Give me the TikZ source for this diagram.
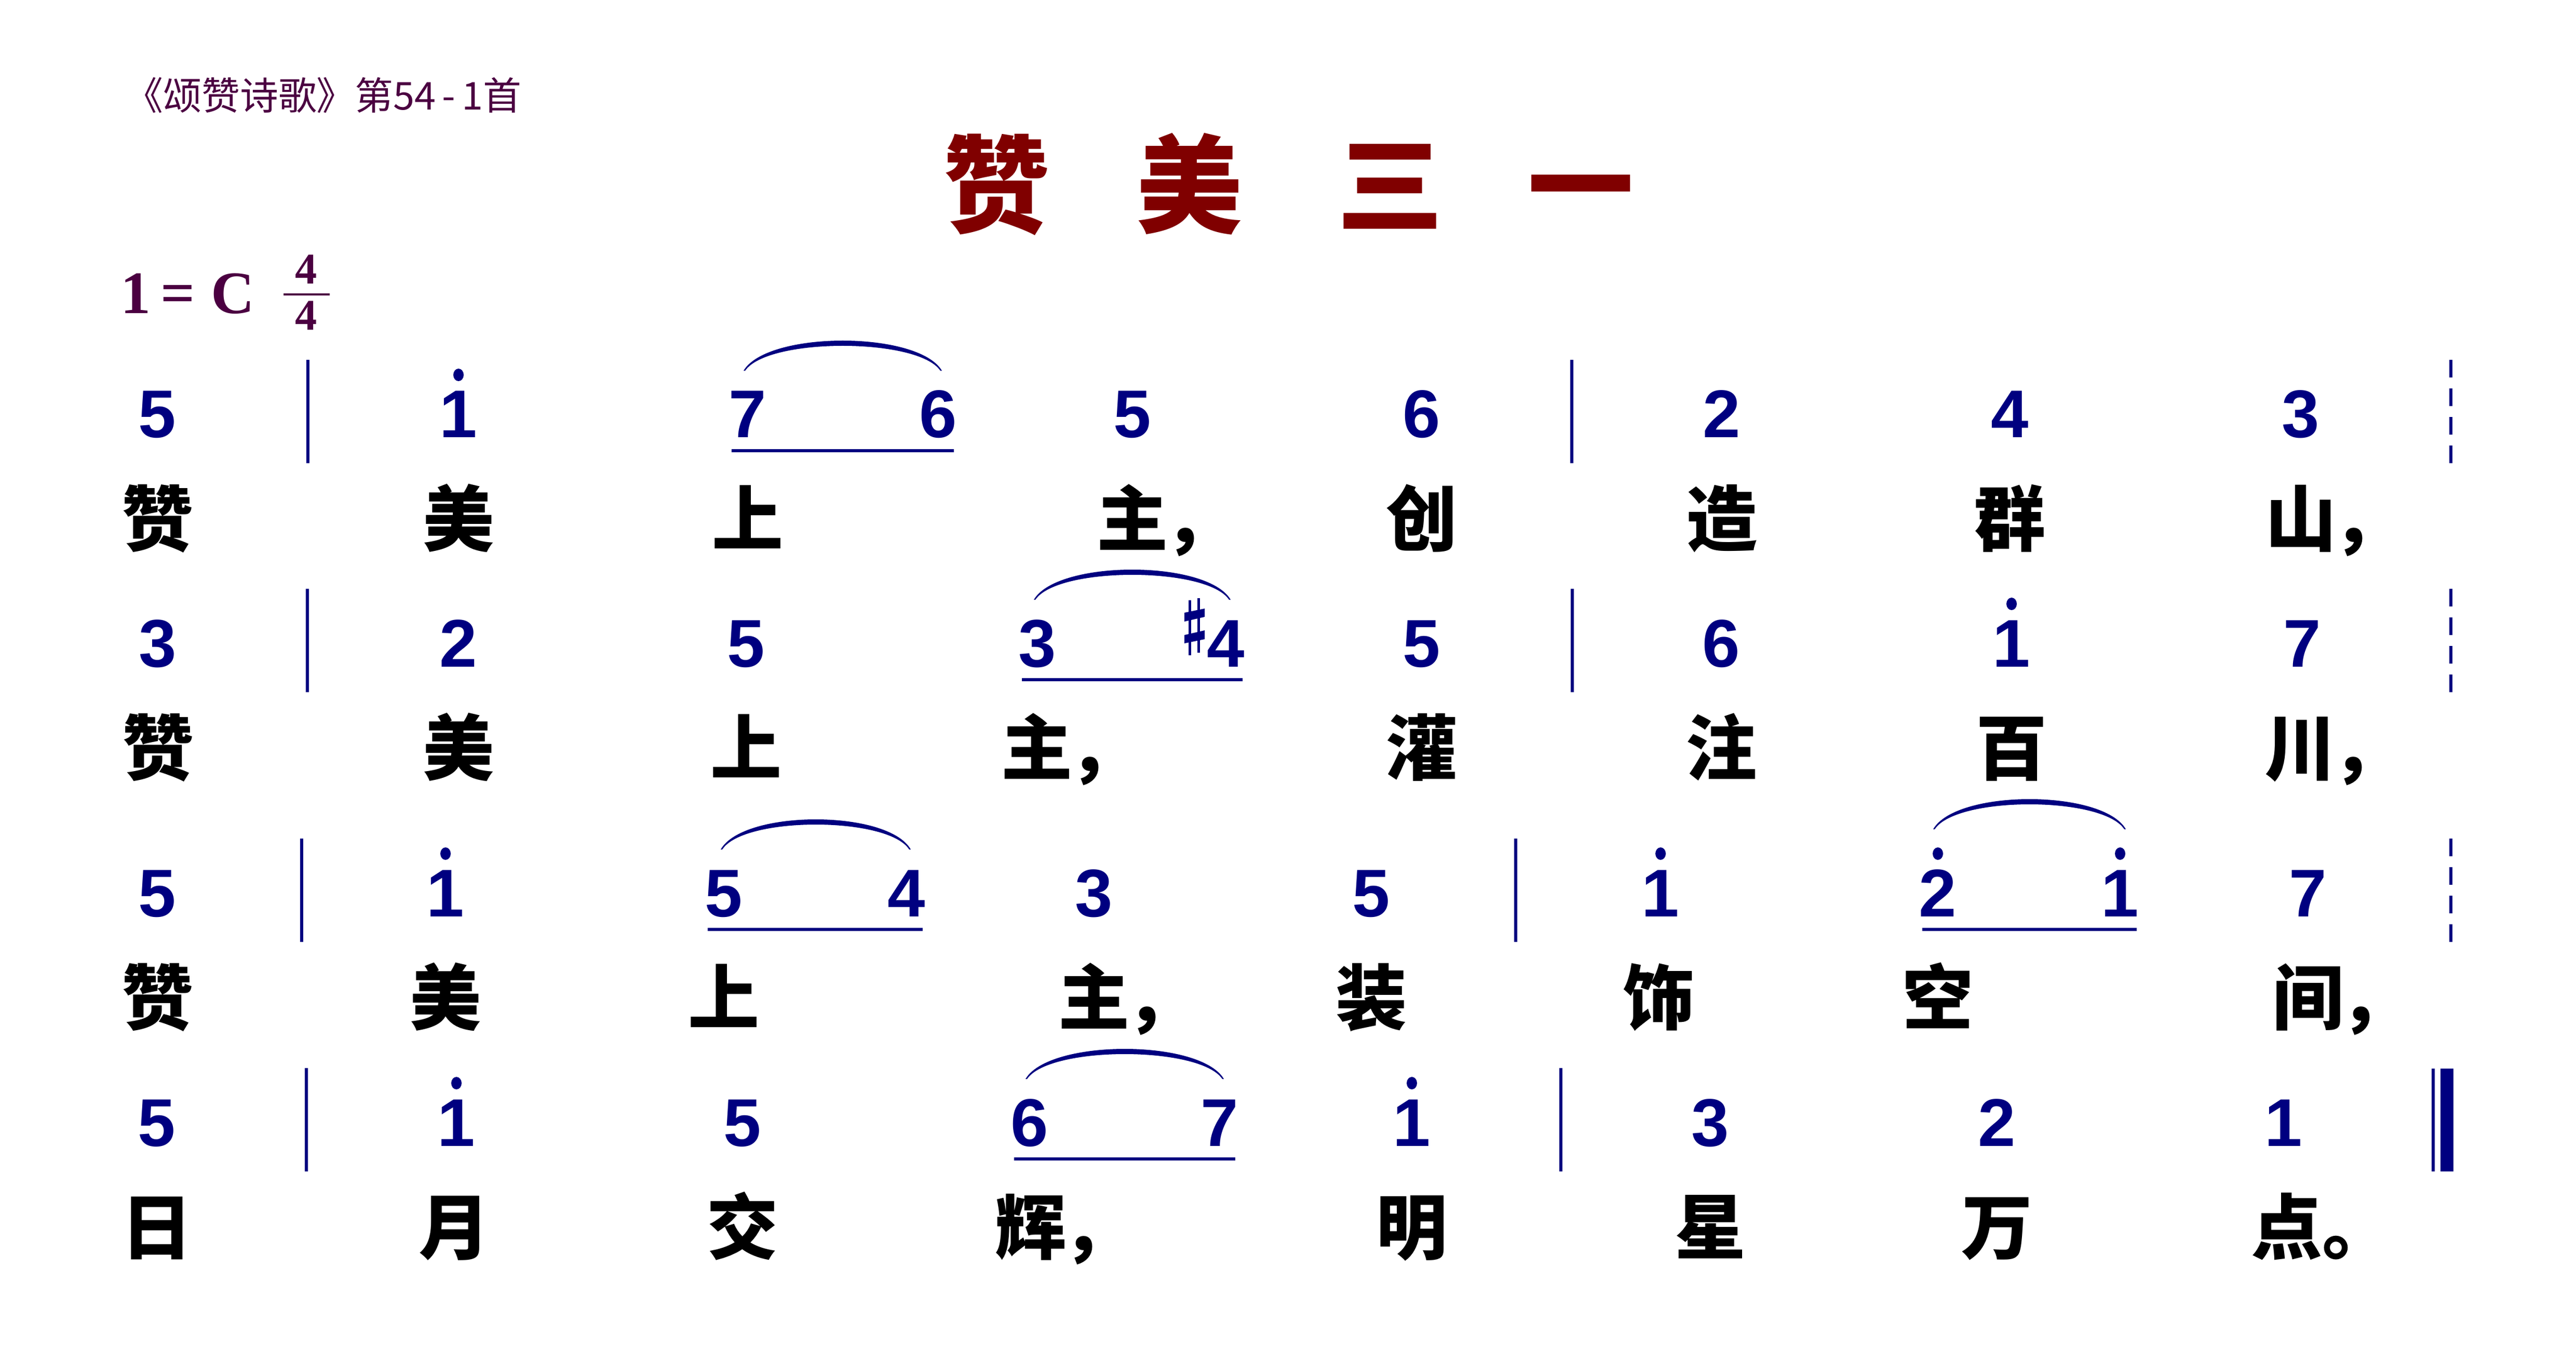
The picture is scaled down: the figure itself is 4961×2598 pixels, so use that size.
\documentclass[tikz,border=0pt]{standalone}
\usepackage{fontspec}
\setmainfont{Liberation Sans}
\newfontfamily\cjk{Noto Sans CJK SC}
\newfontfamily\serifb{Liberation Serif}
\definecolor{navy}{RGB}{0,0,128}
\definecolor{dred}{RGB}{128,0,0}
\definecolor{dpur}{RGB}{75,0,65}
\tikzset{
  note/.style={anchor=base, inner sep=0pt, text=navy, font=\bfseries\fontsize{37pt}{37pt}\selectfont},
  lyr/.style={anchor=base, inner sep=0pt, text=black, font=\cjk\bfseries\fontsize{39pt}{39pt}\selectfont},
  ttl/.style={anchor=base, inner sep=0pt, text=dred, font=\cjk\bfseries\fontsize{58pt}{58pt}\selectfont},
  sub/.style={anchor=base west, inner sep=0pt, text=dpur, font=\cjk\fontsize{21pt}{21pt}\selectfont},
  keyt/.style={anchor=base, inner sep=0pt, text=dpur, font=\serifb\bfseries\fontsize{33pt}{33pt}\selectfont},
  frac/.style={anchor=base, inner sep=0pt, text=dpur, font=\serifb\bfseries\fontsize{24pt}{24pt}\selectfont},
}
% note, lyric, dot, bar, dashed bar, underline, slur, sharp
\newcommand{\Nt}[4]{\node[note] (#1) at (#2,#3) {#4};}
\newcommand{\Ly}[4]{\node[lyr] (#1) at (#2,#3+207) {#4};}
\newcommand{\Cm}{\rlap{\hspace{-0.06em}，}}
\newcommand{\Dt}[2]{\fill[navy] (#1,#2-121) ellipse [x radius=10, y radius=12];}
\newcommand{\Bl}[2]{\fill[navy] (#1-3,#2-150) rectangle (#1+3,#2+49);}
\newcommand{\DB}[2]{\foreach \k in {0,1,2,3}{\fill[navy] (#1-3,#2-150+55*\k) rectangle (#1+3,#2-116+55*\k);}}
\newcommand{\Ul}[3]{\fill[navy] (#1,#3+22) rectangle (#2,#3+28);}
\newcommand{\Sl}[3]{%
  \pgfmathsetmacro{\sw}{#2-#1}%
  \pgfmathsetmacro{\ca}{#1+0.12*\sw}%
  \pgfmathsetmacro{\cb}{#2-0.12*\sw}%
  \pgfmathsetmacro{\yo}{#3-58/0.75}%
  \pgfmathsetmacro{\yi}{#3-48/0.75}%
  \fill[navy] (#1,#3) .. controls (\ca,\yo) and (\cb,\yo) .. (#2,#3)
     -- (#2-3,#3) .. controls (\cb,\yi) and (\ca,\yi) .. (#1+3,#3) -- cycle;}
\newcommand{\Sh}[2]{%
  \fill[navy] (#1-11,#2-128) rectangle (#1-6,#2-22);
  \fill[navy] (#1+6,#2-132) rectangle (#1+11,#2-27);
  \fill[navy] (#1-19,#2-104) -- (#1+20,#2-112) -- (#1+20,#2-96) -- (#1-19,#2-87) -- cycle;
  \fill[navy] (#1-19,#2-61) -- (#1+20,#2-70) -- (#1+20,#2-53) -- (#1-19,#2-45) -- cycle;}
\begin{document}
\begin{tikzpicture}[x=0.01cm,y=-0.01cm]
\useasboundingbox (0,0) rectangle (4961,2598);
% header
\node[sub] (subt) at (240,212) {《颂赞诗歌》第54\,-\,1首};
\node[ttl] (t1) at (1918,433) {赞};
\node[ttl] (t2) at (2290,433) {美};
\node[ttl] (t3) at (2677,433) {三};
\node[ttl] (t4) at (3044,433) {一};
\node[keyt] (k1) at (262,604) {1};
\node[keyt] (k2) at (343,604) {=};
\node[keyt] (k3) at (448,604) {C};
\node[frac] (f1) at (590,547) {4};
\node[frac] (f2) at (590,636) {4};
\fill[dpur] (546,565) rectangle (635,569);
% ---------- row 1 ----------
\Nt{n11}{303}{843}{5} \Bl{593}{843}
\Nt{n12}{883}{843}{1} \Dt{883}{843}
\Nt{n13}{1440}{843}{7} \Nt{n14}{1807}{843}{6} \Ul{1409}{1837}{843} \Sl{1432}{1814}{714}
\Nt{n15}{2181}{843}{5} \Nt{n16}{2738}{843}{6} \Bl{3027}{843}
\Nt{n17}{3316}{843}{2} \Nt{n18}{3871}{843}{4} \Nt{n19}{4431}{843}{3} \DB{4720}{843}
\Ly{l11}{303}{843}{赞} \Ly{l12}{883}{843}{美} \Ly{l13}{1440}{843}{上}
\Ly{l14}{2181}{843}{主\Cm} \Ly{l15}{2738}{843}{创} \Ly{l16}{3316}{843}{造}
\Ly{l17}{3871}{843}{群} \Ly{l18}{4431}{843}{山\Cm}
% ---------- row 2 ----------
\Nt{n21}{304}{1284}{3} \Bl{592}{1284}
\Nt{n22}{883}{1284}{2} \Nt{n23}{1437}{1284}{5}
\Nt{n24}{1998}{1284}{3} \Nt{n25}{2361}{1284}{4} \Sh{2300}{1284} \Ul{1968}{2393}{1284} \Sl{1991}{2370}{1155}
\Nt{n26}{2738}{1284}{5} \Bl{3028}{1284}
\Nt{n27}{3315}{1284}{6} \Nt{n28}{3874}{1284}{1} \Dt{3874}{1284} \Nt{n29}{4434}{1284}{7} \DB{4720}{1284}
\Ly{l21}{304}{1284}{赞} \Ly{l22}{883}{1284}{美} \Ly{l23}{1437}{1284}{上}
\Ly{l24}{1997}{1284}{主\Cm} \Ly{l25}{2738}{1284}{灌} \Ly{l26}{3315}{1284}{注}
\Ly{l27}{3874}{1284}{百} \Ly{l28}{4430}{1284}{川\Cm}
% ---------- row 3 ----------
\Nt{n31}{303}{1765}{5} \Bl{581}{1765}
\Nt{n32}{858}{1765}{1} \Dt{858}{1765}
\Nt{n33}{1394}{1765}{5} \Nt{n34}{1746}{1765}{4} \Ul{1363}{1777}{1765} \Sl{1388}{1754}{1636}
\Nt{n35}{2107}{1765}{3} \Nt{n36}{2641}{1765}{5} \Bl{2919}{1765}
\Nt{n37}{3198}{1765}{1} \Dt{3198}{1765}
\Nt{n38}{3732}{1765}{2} \Dt{3732}{1765} \Nt{n39}{4083}{1765}{1} \Dt{4083}{1765}
\Ul{3702}{4115}{1765} \Sl{3723}{4094}{1597}
\Nt{n3a}{4445}{1765}{7} \DB{4720}{1765}
\Ly{l31}{303}{1765}{赞} \Ly{l32}{858}{1765}{美} \Ly{l33}{1394}{1765}{上}
\Ly{l34}{2107}{1765}{主\Cm} \Ly{l35}{2641}{1765}{装} \Ly{l36}{3195}{1765}{饰}
\Ly{l37}{3732}{1765}{空} \Ly{l38}{4445}{1765}{间\Cm}
% ---------- row 4 ----------
\Nt{n41}{302}{2207}{5} \Bl{590}{2207}
\Nt{n42}{879}{2207}{1} \Dt{879}{2207} \Nt{n43}{1430}{2207}{5}
\Nt{n44}{1983}{2207}{6} \Nt{n45}{2349}{2207}{7} \Ul{1953}{2379}{2207} \Sl{1975}{2357}{2078}
\Nt{n46}{2719}{2207}{1} \Dt{2719}{2207} \Bl{3006}{2207}
\Nt{n47}{3294}{2207}{3} \Nt{n48}{3846}{2207}{2} \Nt{n49}{4398}{2207}{1}
\fill[navy] (4683,2058) rectangle (4689,2256);
\fill[navy] (4700,2058) rectangle (4725,2256);
\Ly{l41}{302}{2207}{日} \Ly{l42}{875}{2207}{月} \Ly{l43}{1430}{2207}{交}
\Ly{l44}{1985}{2207}{辉\Cm} \Ly{l45}{2719}{2207}{明} \Ly{l46}{3294}{2207}{星}
\Ly{l47}{3846}{2207}{万} \Ly{l48}{4404}{2207}{点\rlap{。}}
\end{tikzpicture}
\end{document}
